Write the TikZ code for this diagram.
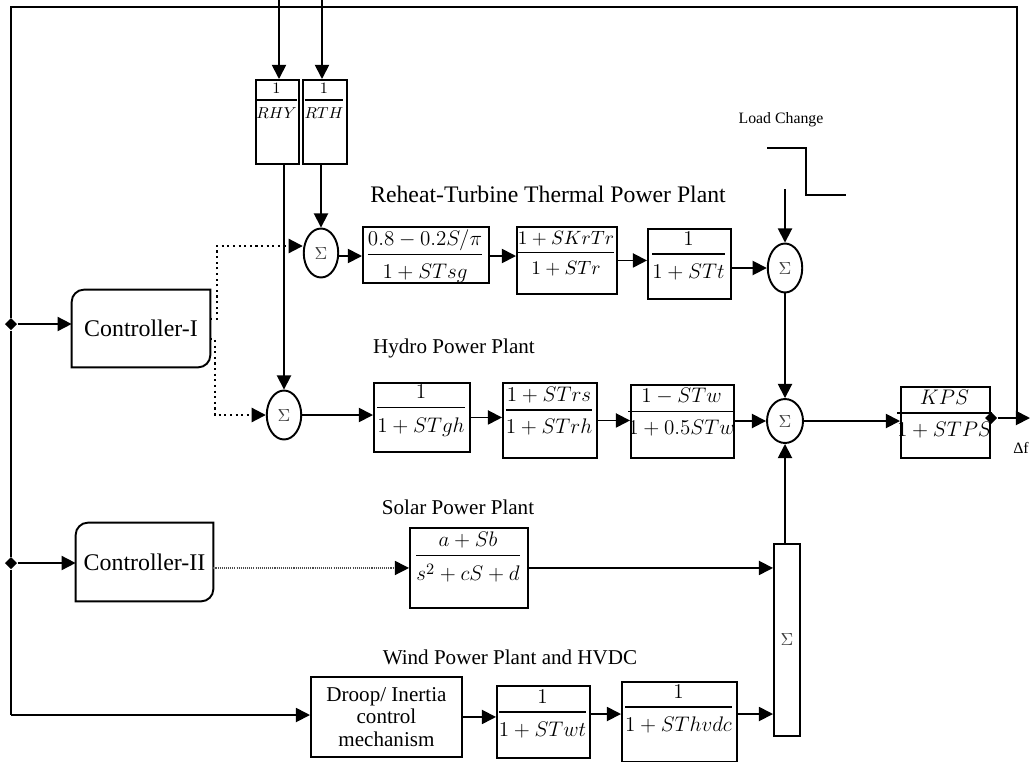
\documentclass[tikz,border=0pt]{standalone}
\usepackage[no-math]{fontspec}
\setmainfont{Liberation Serif}
\usepackage{amsmath}
\usetikzlibrary{shapes.geometric,arrows.meta,calc}
\newcommand{\tfr}[2]{\genfrac{}{}{0.7pt}{0}{#1}{\rule{0pt}{0.9em}#2}}
\tikzset{
 blk/.style={draw, line width=1.1pt, inner sep=0pt, anchor=north west},
 sumc/.style={draw, ellipse, line width=1.1pt, inner sep=0pt, minimum width=0.69cm, minimum height=0.98cm, font=\fontsize{10}{11}\selectfont, text=black!75},
 frac/.style={inner sep=0pt, font=\fontsize{13}{15}\selectfont},
 sfrac/.style={inner sep=0pt, font=\fontsize{9}{10}\selectfont},
 ctrl/.style={inner sep=0pt, font=\fontsize{13.6}{16}\selectfont},
 ln/.style={line width=0.9pt},
 arr/.style={line width=1pt, -{Triangle[length=8pt,width=8pt]}},
 dotarr/.style={line width=1.2pt, dotted, -{Triangle[length=8pt,width=8pt]}},
 fdotarr/.style={line width=0.7pt, draw=black!70, dash pattern=on 0.6pt off 0.6pt, -{Triangle[length=8pt,width=8pt,black]}},
 lbl/.style={inner sep=0pt, font=\fontsize{12}{14}\selectfont},
 dia/.style={diamond, fill, inner sep=0pt, minimum size=7pt},
}
\begin{document}
\begin{tikzpicture}[x=0.02cm,y=-0.02cm]
\useasboundingbox (0,0) rectangle (1030,761);

% ---------- thermal row ----------
\node[blk, minimum width=126*0.02cm, minimum height=56*0.02cm] (t1) at (362,226) {};
\node[frac, font=\fontsize{12.5}{15}\selectfont] (t1f) at (425,256) {$\tfr{0.8-0.2S/\pi}{1+STsg}$};
\node[blk, minimum width=100*0.02cm, minimum height=67*0.02cm] (t2) at (516,226) {};
\node[frac, font=\fontsize{11.3}{14}\selectfont] (t2f) at (566,254) {$\tfr{1+SKrTr}{1+STr}$};
\node[blk, minimum width=83*0.02cm, minimum height=70*0.02cm] (t3) at (647,228) {};
\node[frac] (t3f) at (688.5,256) {$\tfr{1}{1+STt}$};
\node[sumc] (ts) at (321,253) {$\Sigma$};
\node[sumc] (tsum) at (785,268) {$\Sigma$};

% ---------- hydro row ----------
\node[blk, minimum width=96*0.02cm, minimum height=69*0.02cm] (h1) at (373,382) {};
\node[frac] (h1f) at (421,411) {$\tfr{1}{1+STgh}$};
\node[blk, minimum width=94*0.02cm, minimum height=75*0.02cm] (h2) at (502,382) {};
\node[frac, font=\fontsize{12.3}{15}\selectfont] (h2f) at (549,411) {$\tfr{1+STrs}{1+STrh}$};
\node[blk, minimum width=103*0.02cm, minimum height=73*0.02cm] (h3) at (630,384) {};
\node[frac, font=\fontsize{12}{15}\selectfont] (h3f) at (681.5,412) {$\tfr{1-STw}{1+0.5STw}$};
\node[blk, minimum width=89*0.02cm, minimum height=71*0.02cm] (kps) at (900,386) {};
\node[frac, font=\fontsize{12.3}{15}\selectfont] (kpsf) at (944.5,414) {$\tfr{KPS}{1+STPS}$};
\node[sumc] (hs) at (284,415) {$\Sigma$};
\node[sumc, minimum height=0.88cm, minimum width=0.72cm] (hsum) at (785,421) {$\Sigma$};

% ---------- droop gains ----------
\node[blk, minimum width=43*0.02cm, minimum height=84*0.02cm] (rhy) at (255,79) {};
\node[sfrac] (rhyf) at (276.5,101) {$\tfr{1}{RHY}$};
\node[blk, minimum width=44*0.02cm, minimum height=84*0.02cm] (rth) at (302,79) {};
\node[sfrac] (rthf) at (324,101) {$\tfr{1}{RTH}$};

% ---------- solar / wind ----------
\node[blk, minimum width=118*0.02cm, minimum height=80*0.02cm] (sol) at (409,527) {};
\node[frac] (solf) at (468,557) {$\tfr{a+Sb}{s^2+cS+d}$};
\node[blk, minimum width=26*0.02cm, minimum height=192*0.02cm, font=\fontsize{10}{11}\selectfont, text=black!75] (sig) at (773,543) {$\Sigma$};
\node[blk, minimum width=151*0.02cm, minimum height=80*0.02cm, align=center, font=\fontsize{12}{13}\selectfont] (droop) at (310,676) {Droop/ Inertia\\control\\mechanism};
\node[blk, minimum width=93*0.02cm, minimum height=72*0.02cm] (wt) at (496,685) {};
\node[frac] (wtf) at (542.5,714) {$\tfr{1}{1+STwt}$};
\node[blk, minimum width=115*0.02cm, minimum height=80*0.02cm] (hvdc) at (621,681) {};
\node[frac] (hvdcf) at (678.5,709) {$\tfr{1}{1+SThvdc}$};

% ---------- controllers ----------
\node[ctrl, minimum width=138*0.02cm, minimum height=77*0.02cm] (c1) at (141,328.5) {Controller-I};
\node[ctrl, minimum width=137*0.02cm, minimum height=78*0.02cm] (c2) at (144.5,562) {Controller-II};
\foreach \c in {c1,c2}{
 \draw[line width=1.1pt] (\c.north east) -- ([yshift=7pt]\c.south east)
   arc[start angle=0,end angle=-90,radius=7pt] -- (\c.south west)
   -- ([yshift=-7pt]\c.north west) arc[start angle=180,end angle=90,radius=7pt] -- cycle;
}

% ---------- labels ----------
\node[inner sep=0pt, font=\fontsize{13.5}{15}\selectfont] (lt) at (548,194) {Reheat-Turbine Thermal Power Plant};
\node[lbl] (lh) at (454,348) {Hydro Power Plant};
\node[lbl] (ls) at (458,507) {Solar Power Plant};
\node[lbl] (lw) at (510,657) {Wind Power Plant and HVDC};
\node[inner sep=0pt, font=\fontsize{9}{10}\selectfont] (lc) at (781,120) {Load Change};
\node[inner sep=0pt, font=\fontsize{9}{10}\selectfont] (df) at (1021,448) {Δf};

% ---------- junctions / coordinates ----------
\node[dia] (d1) at (11,324) {};
\node[dia] (d2) at (11,563) {};
\node[dia] (d3) at (991,418) {};
\coordinate (j) at (1017,418);
\coordinate (fTR) at (1017,7);
\coordinate (fTL) at (11,7);
\coordinate (fBL) at (11,715);
\coordinate (out) at (1030,418);
\coordinate (rin) at (279,0);
\coordinate (tin) at (322,0);
\coordinate (ld) at (785,189);
\coordinate (k1) at (217,246);
\coordinate (k2) at (215,415);

% ---------- feedback frame ----------
\draw[ln] (j) -- (fTR) -- (fTL) -- (d1) -- (d2) -- (fBL);
\draw[arr] (fBL) -- (droop.west |- fBL);
\draw[arr] (d1) -- (c1.west |- d1);
\draw[arr] (d2) -- (c2.west |- d2);
\draw[arr] (d3) -- (out);
\draw[arr] (rin) -- (rin |- rhy.north);
\draw[arr] (tin) -- (tin |- rth.north);
\draw[arr] (hs.north |- rhy.south) -- (hs.north);
\draw[arr] (ts.north |- rth.south) -- (ts.north);

% ---------- controller outputs ----------
\draw[dotarr] (c1.east |- 0,319) -| (k1) -- (ts.west |- k1);
\draw[dotarr] (c1.east |- 0,339) -| (k2) -- (hs.west);
\draw[fdotarr] (c2.east |- sol.west) -- (sol.west);

% ---------- thermal connectors ----------
\draw[arr] (ts.east |- t1f) -- (t1.west |- t1f);
\draw[arr] (t1.east |- t1f) -- (t2.west |- t1f);
\draw[arr] (t2.east) -- (t2.east -| t3.west);
\draw[arr] (t3.east |- tsum) -- (tsum.west);
\draw[arr] (ld) -- (tsum.north);
\draw[ln] (767,148) -- (806,148) -- (806,195) -- (846,195);
\draw[arr] (tsum.south) -- (hsum.north);

% ---------- hydro connectors ----------
\draw[arr] (hs.east) -- (hs.east -| h1.west);
\draw[arr] (h1.east) -- (h1.east -| h2.west);
\draw[arr] (h2.east) -- (h2.east -| h3.west);
\draw[arr] (h3.east |- hsum) -- (hsum.west);
\draw[arr] (hsum.east) -- (hsum.east -| kps.west);

% ---------- solar / wind connectors ----------
\draw[arr] (sol.east) -- (sol.east -| sig.west);
\draw[arr] (droop.east) -- (droop.east -| wt.west);
\draw[arr] (wt.east |- wtf) -- (hvdc.west |- wtf);
\draw[arr] (hvdc.east |- wtf) -- (sig.west |- wtf);
\draw[arr] (hsum.south |- sig.north) -- (hsum.south);
\end{tikzpicture}
\end{document}
